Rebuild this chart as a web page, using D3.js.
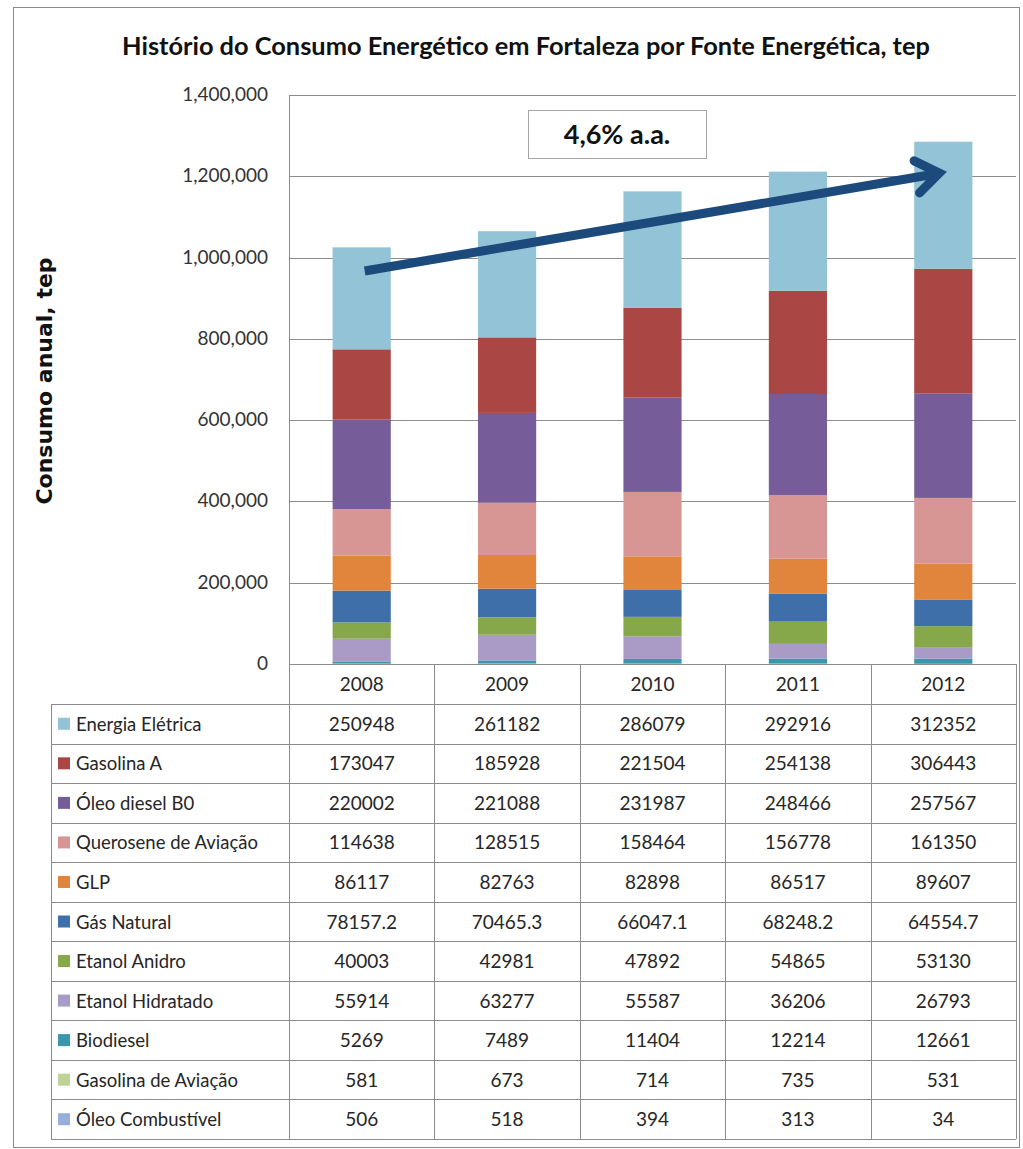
<!DOCTYPE html>
<html>
<head>
<meta charset="utf-8">
<script src="https://cdn.jsdelivr.net/npm/d3@7"></script>
<style>
  html, body { margin: 0; padding: 0; background: #fff; }
  svg { display: block; }
  text { font-family: Lato, "Open Sans", sans-serif; fill: #262626; }
  text.axis-title { font-family: "DejaVu Sans", sans-serif; font-weight: bold; fill: #111; }
</style>
</head>
<body>
<svg id="chart" width="1023" height="1149"></svg>
<script>
// Consumo energético anual em Fortaleza (tep), por fonte
const years = ["2008", "2009", "2010", "2011", "2012"];

// fontes na ordem da tabela (topo da pilha primeiro)
const sources = [
  "Energia Elétrica", "Gasolina A", "Óleo diesel B0", "Querosene de Aviação", "GLP",
  "Gás Natural", "Etanol Anidro", "Etanol Hidratado", "Biodiesel",
  "Gasolina de Aviação", "Óleo Combustível"
];

const energiaEletrica    = [250948, 261182, 286079, 292916, 312352];
const gasolinaA          = [173047, 185928, 221504, 254138, 306443];
const oleoDieselB0       = [220002, 221088, 231987, 248466, 257567];
const queroseneAviacao   = [114638, 128515, 158464, 156778, 161350];
const glp                = [86117, 82763, 82898, 86517, 89607];
const gasNatural         = [78157.2, 70465.3, 66047.1, 68248.2, 64554.7];
const etanolAnidro       = [40003, 42981, 47892, 54865, 53130];
const etanolHidratado    = [55914, 63277, 55587, 36206, 26793];
const biodiesel          = [5269, 7489, 11404, 12214, 12661];
const gasolinaAviacao    = [581, 673, 714, 735, 531];
const oleoCombustivel    = [506, 518, 394, 313, 34];

const seriesValues = [
  energiaEletrica, gasolinaA, oleoDieselB0, queroseneAviacao, glp,
  gasNatural, etanolAnidro, etanolHidratado, biodiesel, gasolinaAviacao, oleoCombustivel
];

const colors = [
  "#92c3d6", "#aa4744", "#765c98", "#d79593", "#e1843c",
  "#3f6fa8", "#86a84a", "#a99bc5", "#3996ad", "#bed496", "#95afd9"
];

const yTicks = [0, 200000, 400000, 600000, 800000, 1000000, 1200000, 1400000];
const growthLabel = "4,6% a.a.";
// seta de tendência: de 2008 a 2012, em tep
const trendFrom = 967000;
const trendTo = 1208000;

const svg = d3.select("#chart");
const fs = 19;

// moldura externa
svg.append("rect")
  .attr("x", 13.5).attr("y", 7.5).attr("width", 1006).attr("height", 1140)
  .attr("fill", "none").attr("stroke", "#8a8a8a").attr("stroke-width", 1);

const plotLeft = 289, plotRight = 1016, plotTop = 95, plotBottom = 664;

const x = d3.scaleBand().domain(years).range([plotLeft, plotRight]).padding(0);
const y = d3.scaleLinear().domain([0, 1400000]).range([plotBottom, plotTop]);
const barW = x.bandwidth() * 0.4;

// grade horizontal
svg.append("g").selectAll("line").data(yTicks.filter(d => d > 0)).join("line")
  .attr("x1", plotLeft).attr("x2", plotRight)
  .attr("y1", d => Math.round(y(d)) + 0.5).attr("y2", d => Math.round(y(d)) + 0.5)
  .attr("stroke", "#8c8c8c").attr("stroke-width", 1);

// eixo vertical
svg.append("line")
  .attr("x1", plotLeft + 0.5).attr("x2", plotLeft + 0.5)
  .attr("y1", plotTop).attr("y2", plotBottom)
  .attr("stroke", "#8c8c8c");

// rótulos do eixo y
svg.append("g").selectAll("text").data(yTicks).join("text")
  .attr("x", 268).attr("y", d => y(d) + 6)
  .attr("text-anchor", "end")
  .attr("font-size", fs)
  .style("fill", "#333")
  .text(d => d3.format(",")(d));

// pilhas: base = Óleo Combustível, topo = Energia Elétrica
const rows = years.map((yr, i) => {
  const o = { year: yr };
  sources.forEach((s, k) => { o[s] = seriesValues[k][i]; });
  return o;
});
const stackKeys = sources.slice().reverse();
const stacked = d3.stack().keys(stackKeys)(rows);
const colorOf = d3.scaleOrdinal().domain(sources).range(colors);

svg.append("g").selectAll("g").data(stacked).join("g")
  .attr("fill", d => colorOf(d.key))
  .selectAll("rect").data(d => d).join("rect")
  .attr("x", d => x(d.data.year) + (x.bandwidth() - barW) / 2)
  .attr("width", barW)
  .attr("y", d => y(d[1]))
  .attr("height", d => y(d[0]) - y(d[1]));

// eixo x (topo da tabela)
svg.append("line")
  .attr("x1", plotLeft).attr("x2", plotRight)
  .attr("y1", plotBottom + 0.5).attr("y2", plotBottom + 0.5)
  .attr("stroke", "#8c8c8c");

// tabela de dados
const tableLeft = 51, headerBottom = 704, tableBottom = 1139;
const rowH = (tableBottom - headerBottom) / sources.length;
const gridColor = "#8c8c8c";
const tbl = svg.append("g");

// linhas horizontais
d3.range(sources.length + 1).forEach(i => {
  const yy = Math.round(headerBottom + i * rowH) + 0.5;
  tbl.append("line").attr("x1", tableLeft).attr("x2", plotRight)
    .attr("y1", yy).attr("y2", yy).attr("stroke", gridColor);
});
// linhas verticais
tbl.append("line").attr("x1", tableLeft + 0.5).attr("x2", tableLeft + 0.5)
  .attr("y1", headerBottom).attr("y2", tableBottom).attr("stroke", gridColor);
years.forEach(yr => {
  const xx = Math.round(x(yr)) + 0.5;
  tbl.append("line").attr("x1", xx).attr("x2", xx)
    .attr("y1", plotBottom).attr("y2", tableBottom).attr("stroke", gridColor);
});
tbl.append("line").attr("x1", plotRight + 0.5).attr("x2", plotRight + 0.5)
  .attr("y1", plotBottom).attr("y2", tableBottom).attr("stroke", gridColor);

// cabeçalho com os anos
tbl.selectAll("text.yr").data(years).join("text").attr("class", "yr")
  .attr("x", d => x(d) + x.bandwidth() / 2)
  .attr("y", (plotBottom + headerBottom) / 2 + 7)
  .attr("text-anchor", "middle").attr("font-size", fs)
  .text(d => d);

const fmtVal = v => Number.isInteger(v) ? String(v) : v.toFixed(1);

sources.forEach((s, k) => {
  const cy = headerBottom + k * rowH + rowH / 2;
  tbl.append("rect").attr("x", 58).attr("y", cy - 6).attr("width", 12).attr("height", 12)
    .attr("fill", colorOf(s));
  tbl.append("text").attr("x", 76).attr("y", cy + 7)
    .attr("font-size", 18.5).text(s);
  years.forEach((yr, i) => {
    tbl.append("text")
      .attr("x", x(yr) + x.bandwidth() / 2).attr("y", cy + 7)
      .attr("text-anchor", "middle").attr("font-size", fs)
      .text(fmtVal(seriesValues[k][i]));
  });
});

// título
const title = svg.append("text")
  .attr("x", 526).attr("y", 55)
  .attr("text-anchor", "middle")
  .attr("font-weight", "bold").attr("font-size", 22)
  .style("fill", "#111")
  .text("Histório do Consumo Energético em Fortaleza por Fonte Energética, tep");
const tw = title.node().getComputedTextLength();
title.attr("font-size", 22 * 808 / tw);

// título do eixo y
svg.append("text")
  .attr("class", "axis-title")
  .attr("transform", "translate(52,381) rotate(-90)")
  .attr("text-anchor", "middle")
  .attr("font-size", 22)
  .text("Consumo anual, tep");

// seta de crescimento
const ax0 = x("2008") + x.bandwidth() / 2 + 3, ay0 = y(trendFrom);
const ax1 = x("2012") + x.bandwidth() / 2 - 4, ay1 = y(trendTo);
const arrowColor = "#1d4a7c";
svg.append("line")
  .attr("x1", ax0).attr("y1", ay0).attr("x2", ax1 - 4).attr("y2", ay1 + 1)
  .attr("stroke", arrowColor).attr("stroke-width", 9).attr("stroke-linecap", "butt");
const ang = Math.atan2(ay1 - ay0, ax1 - ax0);
const headLen = 28, headSpread = 0.62;
const hx1 = ax1 - headLen * Math.cos(ang - headSpread), hy1 = ay1 - headLen * Math.sin(ang - headSpread);
const hx2 = ax1 - headLen * Math.cos(ang + headSpread), hy2 = ay1 - headLen * Math.sin(ang + headSpread);
svg.append("path")
  .attr("d", `M${hx1},${hy1} L${ax1},${ay1} L${hx2},${hy2}`)
  .attr("fill", "none").attr("stroke", arrowColor).attr("stroke-width", 9)
  .attr("stroke-linecap", "round").attr("stroke-linejoin", "miter");

// caixa da taxa de crescimento
svg.append("rect")
  .attr("x", 528.5).attr("y", 110.5).attr("width", 178).attr("height", 48)
  .attr("fill", "#fff").attr("stroke", "#a6a6a6");
svg.append("text")
  .attr("x", 617).attr("y", 144)
  .attr("text-anchor", "middle")
  .attr("font-weight", "bold").attr("font-size", 27)
  .style("fill", "#111")
  .text(growthLabel);
</script>
</body>
</html>
